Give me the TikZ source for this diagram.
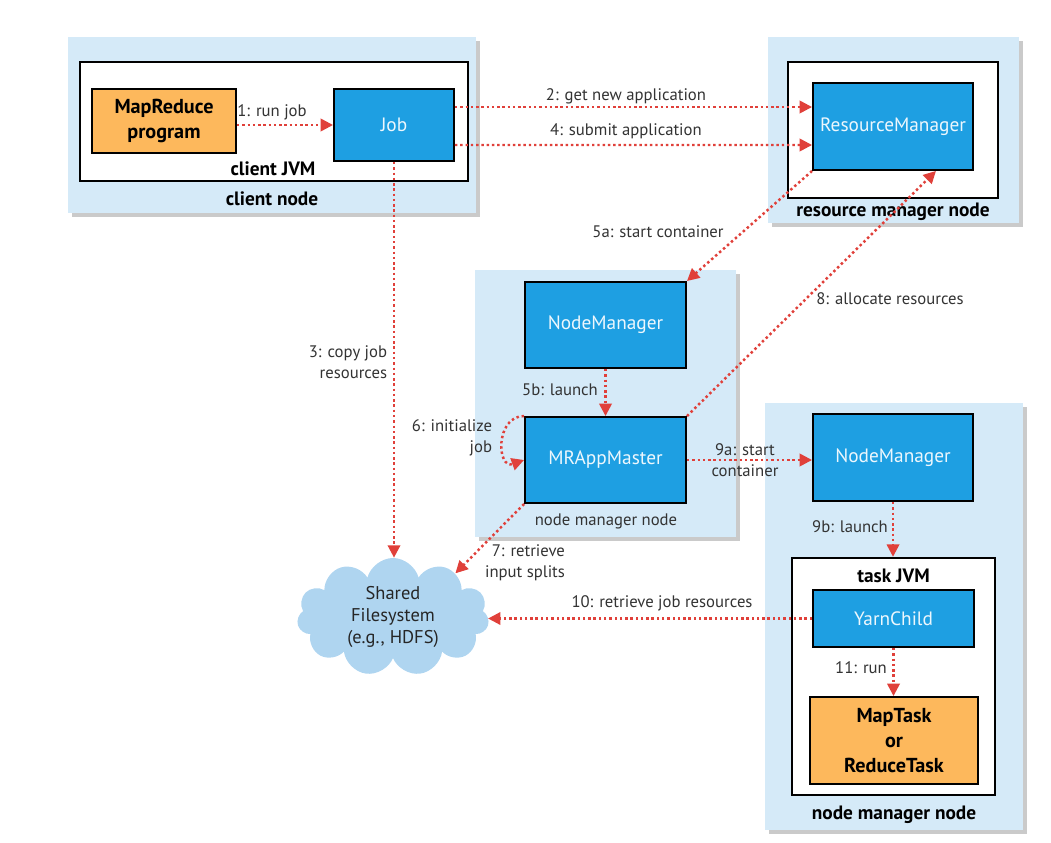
\documentclass[tikz,border=0pt]{standalone}
\usepackage{fontspec}
\setmainfont{PT Sans}
\usepackage{tikz}
\usetikzlibrary{arrows.meta,shapes.symbols,shadows,calc}
\newcommand{\unitpx}{0.02cm}
\newcommand{\flowwidth}{1.4pt}
\definecolor{regioncolor}{HTML}{D5EAF8}
\definecolor{boxcolor}{HTML}{1E9FE2}
\definecolor{progcolor}{HTML}{FDB85C}
\definecolor{arrowcolor}{HTML}{E0403A}
\definecolor{labelcolor}{HTML}{333333}
\definecolor{cloudcolor}{HTML}{AFD5F0}
\tikzset{
  region/.style={rectangle, fill=regioncolor, inner sep=0pt,
    drop shadow={shadow xshift=0.8mm, shadow yshift=-0.8mm, opacity=0.35, fill=black!60}},
  jvm/.style={rectangle, draw=black, line width=1.4pt, fill=white, inner sep=0pt},
  box/.style={rectangle, draw=black, line width=1.1pt, fill=boxcolor, text=white!92!boxcolor,
    font=\fontsize{11}{13}\selectfont},
  prog/.style={rectangle, draw=black, line width=1.1pt, fill=progcolor, align=center,
    font=\bfseries\fontsize{11.5}{14}\selectfont},
  lbl/.style={text=labelcolor, inner sep=0pt, font=\fontsize{9.5}{12}\selectfont},
  title/.style={inner sep=0pt, font=\bfseries\fontsize{11}{13}\selectfont},
  flow/.style={draw=arrowcolor, line width=\flowwidth, dash pattern=on 1.4pt off 1.6pt,
    -{Triangle[length=7pt,width=7pt]}}
}
\begin{document}
\begin{tikzpicture}[x=\unitpx, y=-\unitpx]
\useasboundingbox (0,0) rectangle (1051,842);
%client node
\node[region, minimum width=408*\unitpx, minimum height=176*\unitpx] (cn) at (272,125) {};
\node[jvm, minimum width=388*\unitpx, minimum height=119*\unitpx] (cjvm) at (274,121.5) {};
\node[prog, minimum width=144*\unitpx, minimum height=64*\unitpx] (mrp) at (164,121) {MapReduce\\program};
\node[box, minimum width=120*\unitpx, minimum height=72*\unitpx] (job) at (394,125) {Job};
\node[title] (tcjvm) at (273,169) {client JVM};
\node[title] (tcn) at (272,199) {client node};
%resource manager node
\node[region, minimum width=251*\unitpx, minimum height=186*\unitpx] (rmn) at (893.5,130) {};
\node[jvm, minimum width=210*\unitpx, minimum height=136*\unitpx] (rmw) at (893,130) {};
\node[box, minimum width=160*\unitpx, minimum height=87*\unitpx] (rm) at (893,126.5) {ResourceManager};
\node[title] (trmn) at (893,212) {resource manager node};
%node manager node (application master)
\node[region, minimum width=261*\unitpx, minimum height=267*\unitpx] (nmn1) at (605.5,403.5) {};
\node[box, minimum width=161*\unitpx, minimum height=86*\unitpx] (nm1) at (605.5,325) {NodeManager};
\node[box, minimum width=161*\unitpx, minimum height=86*\unitpx] (mram) at (605.5,460) {MRAppMaster};
\node[lbl] (tnmn1) at (606,521) {node manager node};
%node manager node (task)
\node[region, minimum width=258*\unitpx, minimum height=427*\unitpx] (nmn2) at (894,616.5) {};
\node[box, minimum width=160*\unitpx, minimum height=87*\unitpx] (nm2) at (893,457.5) {NodeManager};
\node[jvm, minimum width=203*\unitpx, minimum height=237*\unitpx] (tjvm) at (893.5,676.5) {};
\node[title] (ttjvm) at (893.5,576) {task JVM};
\node[box, minimum width=161*\unitpx, minimum height=57*\unitpx] (yc) at (893.5,618.5) {YarnChild};
\node[prog, minimum width=168*\unitpx, minimum height=87*\unitpx] (task) at (894,740.5) {MapTask\\or\\ReduceTask};
\node[title] (tnmn2) at (894,815) {node manager node};
%shared filesystem
\node[cloud, cloud puffs=11, aspect=1.6, fill=cloudcolor, inner sep=0pt, align=center,
  minimum width=192*\unitpx, minimum height=118*\unitpx, text=black!85,
  font=\fontsize{10.5}{12.5}\selectfont] (fs) at (393,617) {Shared\\Filesystem\\(e.g., HDFS)};
%steps
\draw[flow] (mrp.east |- job.west) -- (job.west);
\draw[flow] ($(job.east)+(0,-18)$) -- ($(rm.west)+(0,-19.5)$);
\draw[flow] ($(job.east)+(0,20)$) -- ($(rm.west)+(0,18.5)$);
\draw[flow] (job.south) -- (job.south |- fs.north);
\draw[flow] (rm.south west) -- (nm1.north east);
\draw[flow] (nm1.south) -- (mram.north);
\draw[flow] (mram.north west) to[out=180, in=200, looseness=1.7] (mram.west);
\draw[flow] (mram.south west) -- (fs.35);
\draw[flow] (mram.north east) -- (rm.-46);
\draw[flow] (mram.east) -- (nm2.west |- mram.east);
\draw[flow] (nm2.south) -- (nm2.south |- tjvm.north);
\draw[flow] (yc.west) -- (yc.west -| fs.east);
\draw[flow] (yc.south) -- (task.north -| yc.south);
%step labels
\node[lbl] (l1) at (272,112) {1: run job};
\node[lbl] (l2) at (626,96) {2: get new application};
\node[lbl] (l4) at (626,131) {4: submit application};
\node[lbl, align=right] (l3) at (348,362) {3: copy job\\resources};
\node[lbl] (l5a) at (658,232) {5a: start container};
\node[lbl] (l5b) at (560,390) {5b: launch};
\node[lbl, align=right] (l6) at (452,438) {6: initialize\\job};
\node[lbl, align=right] (l7) at (525,563) {7: retrieve\\input splits};
\node[lbl] (l8) at (890,299) {8: allocate resources};
\node[lbl, align=center] (l9a) at (745,460) {9a: start\\container};
\node[lbl] (l9b) at (850,527) {9b: launch};
\node[lbl] (l10) at (662,603) {10: retrieve job resources};
\node[lbl] (l11) at (861,668) {11: run};
\end{tikzpicture}
\end{document}
